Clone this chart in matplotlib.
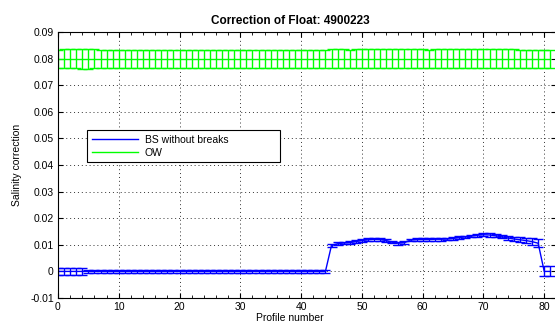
import matplotlib
matplotlib.use("Agg")
import matplotlib.pyplot as plt
import numpy as np
from matplotlib.ticker import MultipleLocator

plt.rcParams['font.family'] = ['Liberation Sans', 'DejaVu Sans']

# 剖面编号
profiles = np.arange(0, 82)

# BS without breaks: 校正值与误差
bs_values = [0.0] * 45 + [
    0.0098, 0.0104, 0.0107, 0.0108, 0.0112, 0.0116, 0.0119, 0.0121, 0.0120,
    0.0116, 0.0110, 0.0106, 0.0108, 0.0118, 0.0120, 0.0120, 0.0120, 0.0121,
    0.0121, 0.0122, 0.0124, 0.0127, 0.0130, 0.0133, 0.0136, 0.0138, 0.0137,
    0.0134, 0.0130, 0.0126, 0.0122, 0.0119, 0.0116, 0.0112, 0.0106,
    0.0000, 0.0000,
]
bs_errors = [0.0013] * 5 + [0.0006] * 40 + [
    0.0005, 0.0005, 0.0005, 0.0005, 0.0005, 0.0005, 0.0005, 0.0005, 0.0005,
    0.0005, 0.0005, 0.0005, 0.0005, 0.0005, 0.0005, 0.0005, 0.0005, 0.0005,
    0.0005, 0.0005, 0.0005, 0.0005, 0.0005, 0.0005, 0.0006, 0.0006, 0.0006,
    0.0006, 0.0006, 0.0007, 0.0008, 0.0009, 0.0010, 0.0013, 0.0016,
    0.0019, 0.0019,
]

# OW: 校正值与误差
ow_values = [0.080] * 82
ow_errors = [0.0034, 0.0037, 0.0037, 0.0037, 0.0038, 0.0038, 0.0037] + [0.0034] * 38 + [
    0.0036, 0.0036, 0.0035, 0.0034, 0.0036, 0.0036, 0.0036, 0.0036, 0.0036,
    0.0036, 0.0036, 0.0036, 0.0036, 0.0037, 0.0037, 0.0036, 0.0034, 0.0037,
    0.0037, 0.0036, 0.0036, 0.0036, 0.0036, 0.0036, 0.0036, 0.0036, 0.0036,
    0.0036, 0.0036, 0.0036, 0.0036, 0.0034,
] + [0.0034] * 5

title = "Correction of Float: 4900223"
x_ticks = np.arange(0, 81, 10)
y_ticks = np.arange(-0.01, 0.0901, 0.01)

fig = plt.figure(figsize=(5.55, 3.25), dpi=100)
ax = fig.add_axes([0.1045, 0.083, 0.898, 0.8185])

cap = 3.55  # 与 MATLAB 帽宽相近 (约 ±0.8 个剖面)
lw = 1.0
ax.errorbar(profiles, bs_values, yerr=bs_errors, color="#0000ff", linewidth=lw,
            elinewidth=lw, capsize=cap, capthick=lw, label="BS without breaks")
ax.errorbar(profiles, ow_values, yerr=ow_errors, color="#00ff00", linewidth=lw,
            elinewidth=lw, capsize=cap, capthick=lw, label="OW")

ax.set_xlim(0, 82)
ax.set_ylim(-0.01, 0.09)
ax.set_xticks(x_ticks)
ax.xaxis.set_minor_locator(MultipleLocator(2))
ax.set_yticks(y_ticks)
ax.set_yticklabels(["0" if abs(v) < 1e-9 else f"{v:g}" for v in y_ticks])
ax.tick_params(which="both", direction="in", top=True, right=True, labelsize=7.5,
               color="black", pad=3)
ax.tick_params(which="major", length=3.5)
ax.tick_params(which="minor", length=2)
ax.grid(True, which="major", linestyle=(0, (1, 3)), color="black", linewidth=0.7,
        alpha=0.8)
for s in ax.spines.values():
    s.set_linewidth(0.8)

ax.set_xlabel("Profile number", fontsize=7.5, labelpad=1)
ax.xaxis.set_label_coords(0.466, -0.055)
ax.set_ylabel("Salinity correction", fontsize=7.5, labelpad=6)
ax.set_title(title, fontsize=8.5, fontweight="bold", x=0.466, pad=6)

handles, labels = ax.get_legend_handles_labels()
handles = [h[0] for h in handles]
leg = ax.legend(handles, labels, loc="upper left",
                bbox_to_anchor=(0.058, 0.45, 0.3875, 0.182), mode="expand",
                borderaxespad=0, fontsize=7.5, frameon=True, fancybox=False,
                handlelength=4.5, handletextpad=0.6, borderpad=0.45,
                labelspacing=0.3)
leg.get_frame().set_edgecolor("black")
leg.get_frame().set_linewidth(0.8)
leg.get_frame().set_alpha(1)

fig.savefig("out.png", dpi=100)
